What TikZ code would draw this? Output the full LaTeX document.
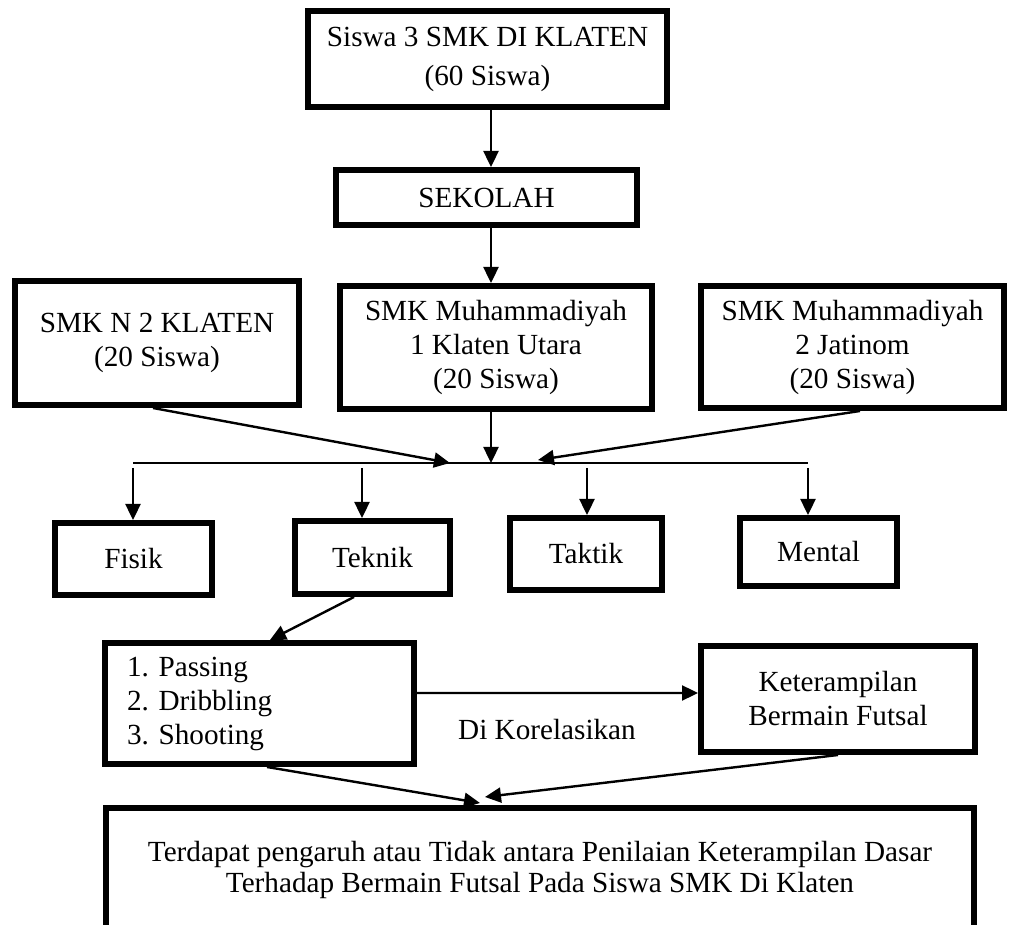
\documentclass[tikz,border=0pt]{standalone}
\usepackage{fontspec}
\setmainfont{Liberation Serif}
\usetikzlibrary{arrows.meta}
\frenchspacing

\begin{document}
\begin{tikzpicture}[x=5pt,y=5pt,
  kotak/.style={draw=black, line width=3pt, inner sep=0pt, align=center, font=\fontsize{14.6pt}{17pt}\selectfont},
  panah/.style={draw=black, line width=1.2pt, -{Triangle[length=8pt,width=7.5pt]}},
  teks/.style={font=\fontsize{14.6pt}{17pt}\selectfont}]
\useasboundingbox (0,0) rectangle (100.9,-92.5);
\node [kotak, minimum width=179.5pt, minimum height=48pt, font=\fontsize{14.6pt}{19.5pt}\selectfont] (top) at (48.75,-5.9) {Siswa 3 SMK DI KLATEN\\(60 Siswa)};
\node [kotak, minimum width=150.5pt, minimum height=27.5pt] (sekolah) at (48.65,-19.75) {SEKOLAH};
\node [kotak, minimum width=142pt, minimum height=62pt] (smkn) at (15.7,-34.3) {SMK N 2 KLATEN\\(20 Siswa)};
\node [kotak, minimum width=156pt, minimum height=61.5pt] (muh1) at (49.6,-34.75) {SMK Muhammadiyah\\1 Klaten Utara\\(20 Siswa)};
\node [kotak, minimum width=151.5pt, minimum height=61pt] (muh2) at (85.25,-34.7) {SMK Muhammadiyah\\2 Jatinom\\(20 Siswa)};
\node [kotak, minimum width=78.5pt, minimum height=36pt] (fisik) at (13.35,-55.9) {Fisik};
\node [kotak, minimum width=77.5pt, minimum height=36.5pt] (teknik) at (37.25,-55.75) {Teknik};
\node [kotak, minimum width=76pt, minimum height=36pt] (taktik) at (58.6,-55.4) {Taktik};
\node [kotak, minimum width=78.5pt, minimum height=34pt] (mental) at (81.85,-55.2) {Mental};
\node [kotak, minimum width=154.5pt, minimum height=60.5pt, text width=132.5pt, inner xsep=11pt, align=left] (skill) at (25.95,-70.35) {1. Passing\\2. Dribbling\\3. Shooting};
\node [kotak, minimum width=137pt, minimum height=53pt] (futsal) at (83.8,-69.9) {Keterampilan\\Bermain Futsal};
\node [kotak, minimum width=434pt, minimum height=62pt, font=\fontsize{14.6pt}{15.5pt}\selectfont] (hasil) at (54.0,-87.0) {Terdapat pengaruh atau Tidak antara Penilaian Keterampilan Dasar\\Terhadap Bermain Futsal Pada Siswa SMK Di Klaten};
\node [teks] (korel) at (54.7,-73.0) {Di Korelasikan};
\coordinate (j) at (49.1,-46.3);
\coordinate (jl) at (13.3,-46.3);
\coordinate (jr) at (80.8,-46.3);
\coordinate (a1) at (45.0,-46.3);
\coordinate (a3) at (53.8,-46.0);
\draw [panah] (j |- top.south) -- (j |- sekolah.north);
\draw [panah] (j |- sekolah.south) -- (j |- muh1.north);
\draw [panah] (j |- muh1.south) -- (j);
\draw [panah] ([xshift=-2pt]smkn.south) -- (a1);
\draw [panah] ([xshift=3.75pt]muh2.south) -- (a3);
\draw [black, line width=0.7pt] (jl) -- (jr);
\foreach \x/\n [count=\i] in {13.3/fisik, 36.2/teknik, 58.7/taktik, 80.8/mental} {
  \coordinate (d\i) at (\x,-46.8);
  \draw [panah] (d\i) -- (d\i |- \n.north);
}
\draw [panah] ([xshift=-9.25pt]teknik.south) -- ([xshift=5.25pt]skill.north);
\draw [panah] ([yshift=5.25pt]skill.east) -- ([yshift=3pt]futsal.west);
\draw [panah] ([xshift=3.75pt]skill.south) -- ([xshift=-30pt,yshift=1pt]hasil.north);
\draw [panah] (futsal.south) -- ([xshift=-27.5pt,yshift=4pt]hasil.north);
\end{tikzpicture}
\end{document}
